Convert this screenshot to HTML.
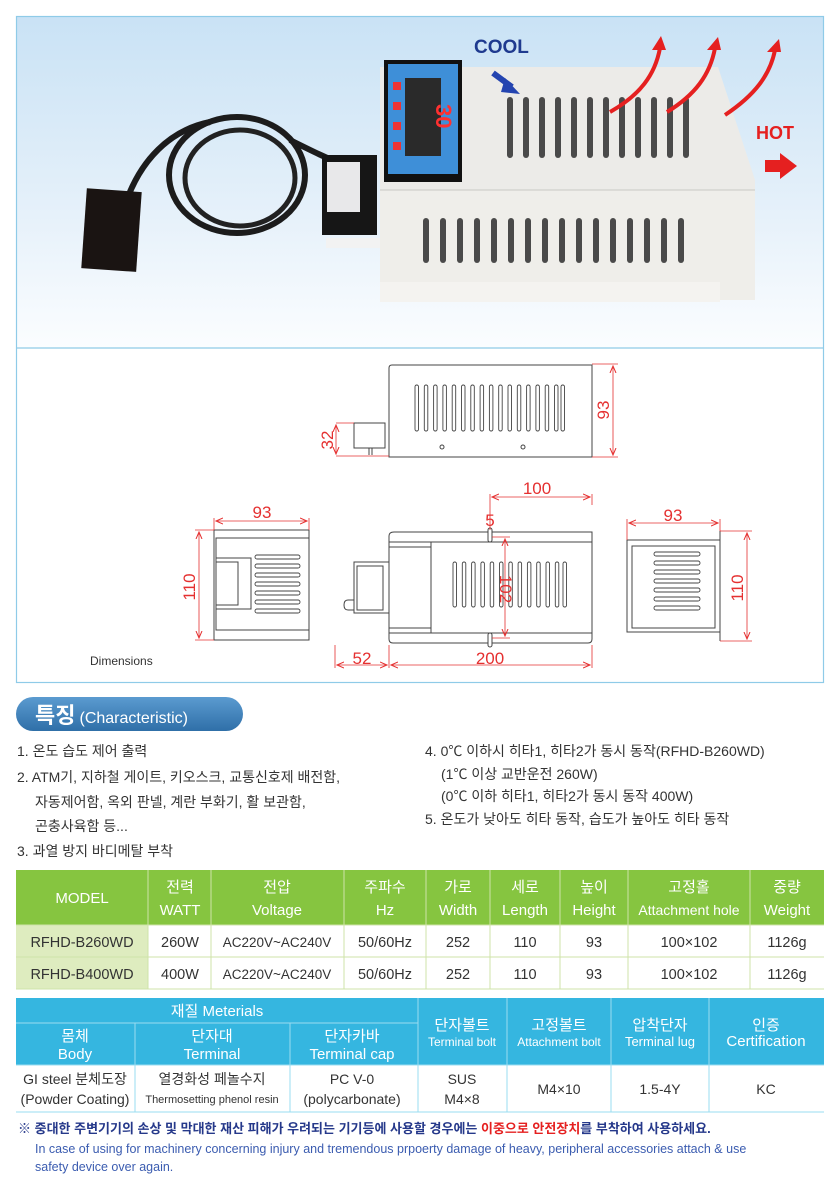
<!DOCTYPE html>
<html><head><meta charset="utf-8">
<style>
html,body{margin:0;padding:0;background:#fff;}
svg{display:block;font-family:"Liberation Sans","Noto Sans CJK KR",sans-serif;}
</style></head><body>
<svg width="833" height="1200" viewBox="0 0 833 1200" xmlns="http://www.w3.org/2000/svg">
<defs>
<linearGradient id="sky" x1="0" y1="0" x2="0" y2="1">
<stop offset="0" stop-color="#c9e2f5"/><stop offset="0.6" stop-color="#e6f1fa"/><stop offset="1" stop-color="#fbfdff"/>
</linearGradient>
<linearGradient id="pill" x1="0" y1="0" x2="0" y2="1">
<stop offset="0" stop-color="#5b9bd0"/><stop offset="1" stop-color="#2f6fa8"/>
</linearGradient>
<marker id="ar" markerWidth="8" markerHeight="8" refX="7" refY="4" orient="auto" markerUnits="userSpaceOnUse"><path d="M0,1 L7,4 L0,7" fill="none" stroke="#e53030" stroke-width="1"/></marker>
<marker id="al" markerWidth="8" markerHeight="8" refX="1" refY="4" orient="auto" markerUnits="userSpaceOnUse"><path d="M8,1 L1,4 L8,7" fill="none" stroke="#e53030" stroke-width="1"/></marker>
</defs>

<!-- outer frame -->
<rect x="16" y="16" width="808" height="332" fill="url(#sky)"/>
<rect x="16.5" y="16.5" width="807" height="666" fill="none" stroke="#8fcbe8" stroke-width="1.2"/>
<line x1="16" y1="348" x2="824" y2="348" stroke="#8fcbe8" stroke-width="1.2"/>

<!-- photo: heater -->
<g>
<!-- cable -->
<ellipse cx="237" cy="175" rx="68" ry="58" fill="none" stroke="#1c1c1c" stroke-width="6"/>
<ellipse cx="240" cy="178" rx="55" ry="48" fill="none" stroke="#222" stroke-width="5"/>
<path d="M125 205 C140 160 170 130 210 122" fill="none" stroke="#1c1c1c" stroke-width="6"/>
<path d="M290 140 C310 150 330 160 345 165" fill="none" stroke="#1c1c1c" stroke-width="6"/>
<!-- sensor -->
<rect x="84" y="190" width="55" height="80" fill="#1a1412" transform="rotate(4 110 230)"/>
<!-- plug box -->
<rect x="322" y="155" width="55" height="80" fill="#161616"/>
<rect x="327" y="162" width="33" height="50" fill="#e8e8ea"/>
<rect x="326" y="238" width="55" height="10" fill="#f2f2f2"/>
<!-- body top face -->
<polygon points="380,67 718,67 755,180 755,300 380,300" fill="#ecebe8"/>
<rect x="380" y="190" width="375" height="110" fill="#efeeea"/>
<line x1="380" y1="190" x2="755" y2="190" stroke="#c8c8c4"/>
<g fill="#4a4a4a">
<rect x="507" y="97" width="6" height="61" rx="3"/><rect x="523" y="97" width="6" height="61" rx="3"/><rect x="539" y="97" width="6" height="61" rx="3"/><rect x="555" y="97" width="6" height="61" rx="3"/><rect x="571" y="97" width="6" height="61" rx="3"/><rect x="587" y="97" width="6" height="61" rx="3"/><rect x="603" y="97" width="6" height="61" rx="3"/><rect x="619" y="97" width="6" height="61" rx="3"/><rect x="635" y="97" width="6" height="61" rx="3"/><rect x="651" y="97" width="6" height="61" rx="3"/><rect x="667" y="97" width="6" height="61" rx="3"/><rect x="683" y="97" width="6" height="61" rx="3"/>
<rect x="423" y="218" width="6" height="45" rx="3"/><rect x="440" y="218" width="6" height="45" rx="3"/><rect x="457" y="218" width="6" height="45" rx="3"/><rect x="474" y="218" width="6" height="45" rx="3"/><rect x="491" y="218" width="6" height="45" rx="3"/><rect x="508" y="218" width="6" height="45" rx="3"/><rect x="525" y="218" width="6" height="45" rx="3"/><rect x="542" y="218" width="6" height="45" rx="3"/><rect x="559" y="218" width="6" height="45" rx="3"/><rect x="576" y="218" width="6" height="45" rx="3"/><rect x="593" y="218" width="6" height="45" rx="3"/><rect x="610" y="218" width="6" height="45" rx="3"/><rect x="627" y="218" width="6" height="45" rx="3"/><rect x="644" y="218" width="6" height="45" rx="3"/><rect x="661" y="218" width="6" height="45" rx="3"/><rect x="678" y="218" width="6" height="45" rx="3"/>
</g>
<rect x="380" y="282" width="340" height="20" fill="#f4f3f0"/>
<!-- control panel -->
<rect x="384" y="60" width="78" height="122" fill="#111"/>
<rect x="388" y="64" width="70" height="110" fill="#3e8fd8"/>
<rect x="405" y="78" width="36" height="78" fill="#2a2a2a"/>
<text x="409" y="105" font-size="22" fill="#ff3030" font-weight="bold" transform="rotate(90 423 118)">30</text>
<rect x="393" y="82" width="8" height="8" fill="#e33"/><rect x="393" y="102" width="8" height="8" fill="#e33"/><rect x="393" y="122" width="8" height="8" fill="#e33"/><rect x="393" y="142" width="8" height="8" fill="#e33"/>
<!-- COOL / HOT -->
<text x="474" y="53" font-size="19" fill="#1f3a8f" font-weight="bold">COOL</text>
<path d="M493 73 L512 87" stroke="#2444b0" stroke-width="6"/>
<polygon points="505,78 520,94 501,92" fill="#2444b0"/>
<text x="756" y="139" font-size="18" fill="#e52020" font-weight="bold">HOT</text>
<polygon points="765,160 780,160 780,153 797,166 780,179 780,172 765,172" fill="#e52020"/>
<g fill="none" stroke="#e52020" stroke-width="4">
<path d="M610 112 C640 95 655 75 660 48"/>
<path d="M667 112 C695 95 710 75 715 48"/>
<path d="M725 115 C755 95 770 75 775 50"/>
</g>
<g fill="#e52020">
<polygon points="652,50 666,50 661,36"/><polygon points="707,50 721,50 718,37"/><polygon points="767,52 781,52 779,39"/>
</g>
</g>

<!-- ===== dimensions drawing ===== -->
<g fill="none" stroke="#444" stroke-width="1">
<!-- side view -->
<path d="M392 365 H592 V457 H389 V368 Q389 365 392 365 Z"/>
<rect x="354" y="423" width="31" height="25"/>
<line x1="369" y1="448" x2="369" y2="455"/><line x1="372" y1="448" x2="372" y2="455"/>
<circle cx="442" cy="447" r="2"/><circle cx="523" cy="447" r="2"/>
</g>
<g fill="none" stroke="#444" stroke-width="0.9">
<rect x="415" y="385" width="3.5" height="46" rx="1.7"/><rect x="424.3" y="385" width="3.5" height="46" rx="1.7"/><rect x="433.6" y="385" width="3.5" height="46" rx="1.7"/><rect x="442.9" y="385" width="3.5" height="46" rx="1.7"/><rect x="452.2" y="385" width="3.5" height="46" rx="1.7"/><rect x="461.5" y="385" width="3.5" height="46" rx="1.7"/><rect x="470.8" y="385" width="3.5" height="46" rx="1.7"/><rect x="480.1" y="385" width="3.5" height="46" rx="1.7"/><rect x="489.4" y="385" width="3.5" height="46" rx="1.7"/><rect x="498.7" y="385" width="3.5" height="46" rx="1.7"/><rect x="508" y="385" width="3.5" height="46" rx="1.7"/><rect x="517.3" y="385" width="3.5" height="46" rx="1.7"/><rect x="526.6" y="385" width="3.5" height="46" rx="1.7"/><rect x="535.9" y="385" width="3.5" height="46" rx="1.7"/><rect x="545.2" y="385" width="3.5" height="46" rx="1.7"/><rect x="554.5" y="385" width="3.5" height="46" rx="1.7"/><rect x="561" y="385" width="3.5" height="46" rx="1.7"/>
</g>

<!-- left view -->
<g fill="none" stroke="#444" stroke-width="1">
<rect x="214" y="530" width="95" height="110"/>
<rect x="216" y="538" width="93" height="92"/>
<rect x="216" y="558" width="35" height="51"/>
<rect x="216" y="562" width="22" height="43"/>
<g stroke-width="0.9">
<rect x="255" y="555" width="45" height="4" rx="2"/><rect x="255" y="564" width="45" height="4" rx="2"/><rect x="255" y="573" width="45" height="4" rx="2"/><rect x="255" y="582" width="45" height="4" rx="2"/><rect x="255" y="591" width="45" height="4" rx="2"/><rect x="255" y="600" width="45" height="4" rx="2"/><rect x="255" y="609" width="45" height="4" rx="2"/>
</g>
</g>
<!-- middle view -->
<g fill="none" stroke="#444" stroke-width="1">
<path d="M394 532 H592 V639 Q592 643 588 643 H393 Q389 643 389 639 V536 Q389 532 394 532 Z" fill="#fff"/>
<line x1="389" y1="542" x2="592" y2="542"/><line x1="389" y1="633" x2="592" y2="633"/>
<line x1="431" y1="542" x2="431" y2="633"/>
<line x1="389" y1="547" x2="431" y2="547"/><line x1="389" y1="628" x2="431" y2="628"/>
<rect x="488" y="528" width="4" height="14" rx="2" fill="#fff"/>
<rect x="488" y="633" width="4" height="14" rx="2" fill="#fff"/>
<rect x="354" y="562" width="35" height="51"/>
<rect x="357" y="566" width="26" height="44"/>
<path d="M354 600 H348 Q344 600 344 605 Q344 610 348 610 H354"/>
<g stroke-width="0.9">
<rect x="453" y="562" width="3.5" height="45" rx="1.7"/><rect x="462.3" y="562" width="3.5" height="45" rx="1.7"/><rect x="471.6" y="562" width="3.5" height="45" rx="1.7"/><rect x="480.9" y="562" width="3.5" height="45" rx="1.7"/><rect x="490.2" y="562" width="3.5" height="45" rx="1.7"/><rect x="499.5" y="562" width="3.5" height="45" rx="1.7"/><rect x="508.8" y="562" width="3.5" height="45" rx="1.7"/><rect x="518.1" y="562" width="3.5" height="45" rx="1.7"/><rect x="527.4" y="562" width="3.5" height="45" rx="1.7"/><rect x="536.7" y="562" width="3.5" height="45" rx="1.7"/><rect x="546" y="562" width="3.5" height="45" rx="1.7"/><rect x="555.3" y="562" width="3.5" height="45" rx="1.7"/><rect x="563" y="562" width="3.5" height="45" rx="1.7"/>
</g>
</g>
<!-- right view -->
<g fill="none" stroke="#444" stroke-width="1">
<rect x="627" y="540" width="93" height="92"/>
<rect x="632" y="546" width="83" height="82"/>
<line x1="720" y1="531" x2="720" y2="540"/><line x1="720" y1="632" x2="720" y2="641"/>
<g stroke-width="0.9">
<rect x="654" y="552" width="46" height="4" rx="2"/><rect x="654" y="561" width="46" height="4" rx="2"/><rect x="654" y="570" width="46" height="4" rx="2"/><rect x="654" y="579" width="46" height="4" rx="2"/><rect x="654" y="588" width="46" height="4" rx="2"/><rect x="654" y="597" width="46" height="4" rx="2"/><rect x="654" y="606" width="46" height="4" rx="2"/>
</g>
</g>

<!-- dimension lines (red) -->
<g stroke="#e53030" stroke-width="0.8" fill="none">
<line x1="592" y1="364" x2="618" y2="364"/><line x1="592" y1="457" x2="618" y2="457"/>
<line x1="613" y1="366" x2="613" y2="455" marker-start="url(#al)" marker-end="url(#ar)"/>
<line x1="336" y1="423" x2="354" y2="423"/><line x1="336" y1="456" x2="389" y2="456"/>
<line x1="336" y1="425" x2="336" y2="454" marker-start="url(#al)" marker-end="url(#ar)"/>
<line x1="214" y1="518" x2="214" y2="530"/><line x1="309" y1="518" x2="309" y2="530"/>
<line x1="216" y1="521" x2="307" y2="521" marker-start="url(#al)" marker-end="url(#ar)"/>
<line x1="195" y1="530" x2="214" y2="530"/><line x1="195" y1="640" x2="214" y2="640"/>
<line x1="199" y1="532" x2="199" y2="638" marker-start="url(#al)" marker-end="url(#ar)"/>
<line x1="490" y1="494" x2="490" y2="530"/><line x1="592" y1="494" x2="592" y2="505"/>
<line x1="492" y1="497" x2="590" y2="497" marker-start="url(#al)" marker-end="url(#ar)"/>
<line x1="492" y1="537" x2="510" y2="537"/><line x1="492" y1="638" x2="510" y2="638"/>
<line x1="505" y1="539" x2="505" y2="636" marker-start="url(#al)" marker-end="url(#ar)"/>
<line x1="335" y1="645" x2="335" y2="668"/><line x1="389" y1="645" x2="389" y2="668"/><line x1="592" y1="645" x2="592" y2="668"/>
<line x1="337" y1="665" x2="387" y2="665" marker-start="url(#al)" marker-end="url(#ar)"/>
<line x1="391" y1="665" x2="590" y2="665" marker-start="url(#al)" marker-end="url(#ar)"/>
<line x1="627" y1="519" x2="627" y2="540"/><line x1="720" y1="519" x2="720" y2="531"/>
<line x1="629" y1="523" x2="718" y2="523" marker-start="url(#al)" marker-end="url(#ar)"/>
<line x1="720" y1="531" x2="752" y2="531"/><line x1="720" y1="641" x2="752" y2="641"/>
<line x1="747" y1="533" x2="747" y2="639" marker-start="url(#al)" marker-end="url(#ar)"/>
</g>
<g fill="#e53030" font-size="17" text-anchor="middle">
<text x="0" y="0" transform="translate(609 410) rotate(-90)">93</text>
<text x="0" y="0" transform="translate(333 440) rotate(-90)">32</text>
<text x="262" y="518">93</text>
<text x="0" y="0" transform="translate(195 587) rotate(-90)">110</text>
<text x="537" y="494">100</text>
<text x="490" y="526">5</text>
<text x="0" y="0" transform="translate(500 589) rotate(90)">102</text>
<text x="362" y="664">52</text>
<text x="490" y="664">200</text>
<text x="673" y="521">93</text>
<text x="0" y="0" transform="translate(743 588) rotate(-90)">110</text>
</g>
<text x="90" y="665" font-size="12" fill="#333">Dimensions</text>

<!-- Characteristic -->
<rect x="16" y="697" width="227" height="34" rx="17" fill="url(#pill)"/>
<text x="35" y="723" font-size="22" font-weight="bold" fill="#fff">특징<tspan font-size="16" font-weight="normal" dx="4">(Characteristic)</tspan></text>
<g font-size="14" fill="#333">
<text x="17" y="756">1. 온도 습도 제어 출력</text>
<text x="17" y="782">2. ATM기, 지하철 게이트, 키오스크, 교통신호제 배전함,</text>
<text x="35" y="807">자동제어함, 옥외 판넬, 계란 부화기, 활 보관함,</text>
<text x="35" y="831">곤충사육함 등...</text>
<text x="17" y="856">3. 과열 방지 바디메탈 부착</text>
<text x="425" y="756">4. 0℃ 이하시 히타1, 히타2가 동시 동작(RFHD-B260WD)</text>
<text x="441" y="779">(1℃ 이상 교반운전 260W)</text>
<text x="441" y="801">(0℃ 이하 히타1, 히타2가 동시 동작 400W)</text>
<text x="425" y="824">5. 온도가 낮아도 히타 동작, 습도가 높아도 히타 동작</text>
</g>

<!-- Table 1 -->
<rect x="16" y="870" width="808" height="55" fill="#86c540"/>
<rect x="16" y="925" width="132" height="64" fill="#deecbf"/>
<g stroke="#cfe3a8" stroke-width="1">
<line x1="148" y1="870" x2="148" y2="989"/><line x1="211" y1="870" x2="211" y2="989"/><line x1="344" y1="870" x2="344" y2="989"/><line x1="426" y1="870" x2="426" y2="989"/><line x1="490" y1="870" x2="490" y2="989"/><line x1="560" y1="870" x2="560" y2="989"/><line x1="628" y1="870" x2="628" y2="989"/><line x1="750" y1="870" x2="750" y2="989"/>
<line x1="16" y1="957" x2="824" y2="957"/><line x1="16" y1="989" x2="824" y2="989"/><line x1="16" y1="925" x2="824" y2="925"/>
</g>
<g font-size="15" fill="#fff" text-anchor="middle">
<text x="82" y="903">MODEL</text>
<text x="180" y="892">전력</text><text x="180" y="915">WATT</text>
<text x="277" y="892">전압</text><text x="277" y="915">Voltage</text>
<text x="385" y="892">주파수</text><text x="385" y="915">Hz</text>
<text x="458" y="892">가로</text><text x="458" y="915">Width</text>
<text x="525" y="892">세로</text><text x="525" y="915">Length</text>
<text x="594" y="892">높이</text><text x="594" y="915">Height</text>
<text x="689" y="892">고정홀</text><text x="689" y="915" font-size="14">Attachment hole</text>
<text x="787" y="892">중량</text><text x="787" y="915">Weight</text>
</g>
<g font-size="14.5" fill="#333" text-anchor="middle">
<text x="82" y="947">RFHD-B260WD</text><text x="180" y="947">260W</text><text x="277" y="947" font-size="13.5">AC220V~AC240V</text><text x="385" y="947">50/60Hz</text><text x="458" y="947">252</text><text x="525" y="947">110</text><text x="594" y="947">93</text><text x="689" y="947">100×102</text><text x="787" y="947">1126g</text>
<text x="82" y="979">RFHD-B400WD</text><text x="180" y="979">400W</text><text x="277" y="979" font-size="13.5">AC220V~AC240V</text><text x="385" y="979">50/60Hz</text><text x="458" y="979">252</text><text x="525" y="979">110</text><text x="594" y="979">93</text><text x="689" y="979">100×102</text><text x="787" y="979">1126g</text>
</g>

<!-- Table 2 -->
<rect x="16" y="998" width="808" height="67" fill="#35b6e0"/>
<g stroke="#9adcf0" stroke-width="1">
<line x1="16" y1="1023" x2="418" y2="1023"/>
<line x1="135" y1="1023" x2="135" y2="1112"/><line x1="290" y1="1023" x2="290" y2="1112"/>
<line x1="418" y1="998" x2="418" y2="1112"/><line x1="507" y1="998" x2="507" y2="1112"/><line x1="611" y1="998" x2="611" y2="1112"/><line x1="709" y1="998" x2="709" y2="1112"/>
<line x1="16" y1="1065" x2="824" y2="1065"/><line x1="16" y1="1112" x2="824" y2="1112"/>
</g>
<g font-size="15" fill="#fff" text-anchor="middle">
<text x="217" y="1016">재질  Meterials</text>
<text x="75" y="1041">몸체</text><text x="75" y="1059">Body</text>
<text x="212" y="1041">단자대</text><text x="212" y="1059">Terminal</text>
<text x="352" y="1041">단자카바</text><text x="352" y="1059">Terminal cap</text>
<text x="462" y="1030">단자볼트</text><text x="462" y="1046" font-size="12">Terminal bolt</text>
<text x="559" y="1030">고정볼트</text><text x="559" y="1046" font-size="12">Attachment bolt</text>
<text x="660" y="1030">압착단자</text><text x="660" y="1046" font-size="13">Terminal lug</text>
<text x="766" y="1030">인증</text><text x="766" y="1046">Certification</text>
</g>
<g font-size="14" fill="#333" text-anchor="middle">
<text x="75" y="1084">GI steel 분체도장</text><text x="75" y="1104">(Powder Coating)</text>
<text x="212" y="1084">열경화성 페놀수지</text><text x="212" y="1103" font-size="11">Thermosetting phenol resin</text>
<text x="352" y="1084">PC V-0</text><text x="352" y="1104">(polycarbonate)</text>
<text x="462" y="1084">SUS</text><text x="462" y="1104">M4×8</text>
<text x="559" y="1094">M4×10</text><text x="660" y="1094">1.5-4Y</text><text x="766" y="1094">KC</text>
</g>

<!-- notice -->
<text x="18" y="1133" font-size="13" font-weight="bold" fill="#25388a">※ 중대한 주변기기의 손상 및 막대한 재산 피해가 우려되는 기기등에 사용할 경우에는 <tspan fill="#e52020">이중으로 안전장치</tspan>를 부착하여 사용하세요.</text>
<text x="35" y="1153" font-size="12.5" fill="#3b5cb0">In case of using for machinery concerning injury and tremendous prpoerty damage of heavy, peripheral accessories attach &amp; use</text>
<text x="35" y="1171" font-size="12.5" fill="#3b5cb0">safety device over again.</text>
</svg>
</body></html>
